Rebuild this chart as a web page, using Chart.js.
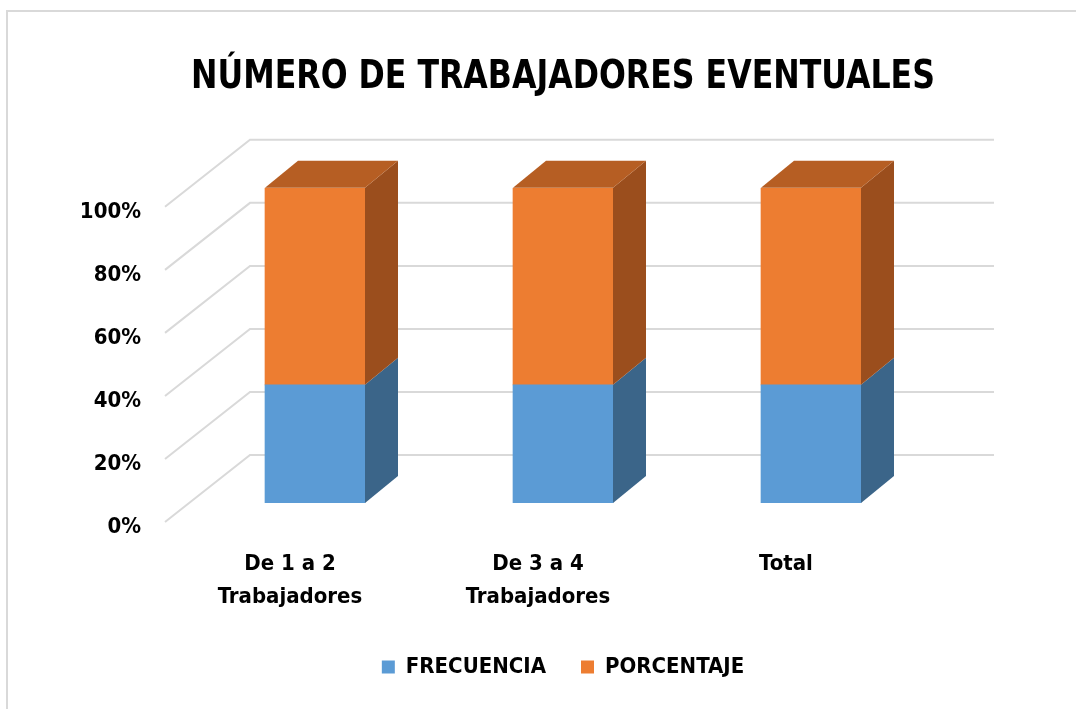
<!DOCTYPE html>
<html>
<head>
<meta charset="utf-8">
<script src="https://cdn.jsdelivr.net/npm/chart.js@4/dist/chart.umd.min.js"></script>
<style>
  html, body { margin: 0; padding: 0; background: #fff; }
  #frame { position: absolute; left: 6px; top: 10px; width: 1070px; height: 699px;
           border-left: 2px solid #d9d9d9; border-top: 2px solid #d9d9d9; }
  #chart { position: absolute; left: 0; top: 0; }
</style>
</head>
<body>
<div id="frame"></div>
<canvas id="chart" width="1076" height="709"></canvas>
<script>
var categories = [['De 1 a 2', 'Trabajadores'], ['De 3 a 4', 'Trabajadores'], 'Total']
var series_names = ['FRECUENCIA', 'PORCENTAJE']
var frecuencia = [37.5, 37.5, 37.5]
var porcentaje = [62.5, 62.5, 62.5]
var y_ticks = [0, 20, 40, 60, 80, 100]

var FONT = "'Liberation Sans Narrow', 'DejaVu Sans Condensed', sans-serif"

// depth offsets for the fake 3d look
var bar_depth = {dx: 33, dy: -27}
var back_wall = {dx: 59, dy: -48}
var floor_edge = {dx: -26, dy: 19}

var front_colors = ['#5b9bd5', '#ed7d31']
var side_colors = ['#3b6589', '#9b4e1d']
var top_color = '#b65e23'

function poly(ctx, pts, color){
    ctx.beginPath()
    ctx.moveTo(pts[0][0], pts[0][1])
    for(let i=1;i<pts.length;i++){
        ctx.lineTo(pts[i][0], pts[i][1])
    }
    ctx.closePath()
    ctx.fillStyle = color
    ctx.fill()
}

var threeD = {
    id: 'threeD',
    beforeDatasetsDraw(chart){
        let ctx = chart.ctx
        let a = chart.chartArea
        let y = chart.scales.y
        ctx.save()
        ctx.strokeStyle = '#d9d9d9'
        ctx.lineWidth = 2
        y_ticks.forEach(function(v){
            let py = y.getPixelForValue(v)
            ctx.beginPath()
            ctx.moveTo(a.right + back_wall.dx, py + back_wall.dy)
            ctx.lineTo(a.left + back_wall.dx, py + back_wall.dy)
            ctx.lineTo(a.left + floor_edge.dx, py + floor_edge.dy)
            ctx.stroke()
        })
        ctx.restore()
    },
    afterDatasetsDraw(chart){
        let ctx = chart.ctx
        let last = chart.data.datasets.length - 1
        ctx.save()
        chart.data.datasets.forEach(function(ds, i){
            chart.getDatasetMeta(i).data.forEach(function(el){
                let p = el.getProps(['x', 'y', 'base', 'width'], true)
                let left = p.x - p.width / 2
                let right = p.x + p.width / 2
                let top = Math.min(p.y, p.base)
                let bottom = Math.max(p.y, p.base)
                poly(ctx, [[right, top], [right + bar_depth.dx, top + bar_depth.dy],
                           [right + bar_depth.dx, bottom + bar_depth.dy], [right, bottom]], side_colors[i])
                if(i == last){
                    poly(ctx, [[left, top], [left + bar_depth.dx, top + bar_depth.dy],
                               [right + bar_depth.dx, top + bar_depth.dy], [right, top]], top_color)
                }
            })
        })
        ctx.restore()
    }
}

var ctx = document.getElementById('chart').getContext('2d')
var chart = new Chart(ctx, {
    type: 'bar',
    data: {
        labels: categories,
        datasets: [{
            label: series_names[0],
            data: frecuencia,
            backgroundColor: front_colors[0],
            borderWidth: 0,
            barThickness: 100
        }, {
            label: series_names[1],
            data: porcentaje,
            backgroundColor: front_colors[1],
            borderWidth: 0,
            barThickness: 100
        }]
    },
    options: {
        responsive: false,
        animation: false,
        layout: {
            padding: {left: 0, right: 141, top: 0, bottom: 21}
        },
        plugins: {
            title: {
                display: true,
                fullSize: false,
                text: 'NÚMERO DE TRABAJADORES EVENTUALES',
                color: '#000',
                font: {family: FONT, size: 39, weight: 'bold', lineHeight: 1.2},
                padding: {top: 54, bottom: 87}
            },
            legend: {
                position: 'bottom',
                fullSize: false,
                labels: {
                    color: '#000',
                    boxWidth: 13,
                    boxHeight: 13,
                    padding: 35,
                    font: {family: FONT, size: 22, weight: 'bold'}
                }
            },
            tooltip: {enabled: false}
        },
        scales: {
            x: {
                stacked: true,
                grid: {display: false, drawTicks: false},
                border: {display: false},
                ticks: {
                    color: '#000',
                    padding: 45,
                    labelOffset: -25,
                    maxRotation: 0,
                    font: {family: FONT, size: 22, weight: 'bold', lineHeight: 1.5}
                },
                afterFit: function(scale){ scale.height = 118 }
            },
            y: {
                stacked: true,
                min: 0,
                max: 100,
                grid: {display: false, drawTicks: false},
                border: {display: false},
                ticks: {
                    stepSize: 20,
                    color: '#000',
                    padding: 50,
                    labelOffset: 24,
                    font: {family: FONT, size: 22, weight: 'bold'},
                    callback: function(v){ return v + '%' }
                },
                afterFit: function(scale){ scale.width = 191 }
            }
        }
    },
    plugins: [threeD]
});
</script>
</body>
</html>
